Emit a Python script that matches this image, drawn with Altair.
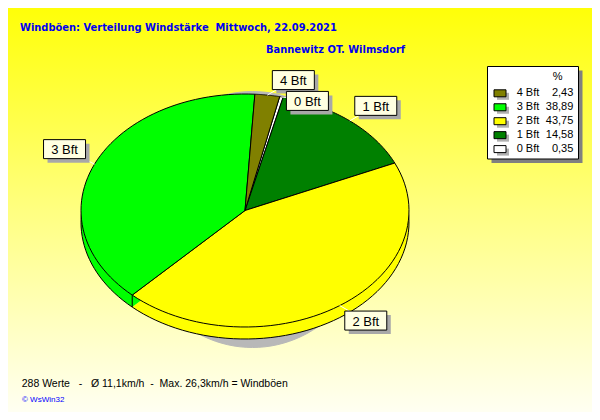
import math
import altair as alt
import pandas as pd

# ---------------- data ----------------
labels = ["0 Bft", "1 Bft", "2 Bft", "3 Bft", "4 Bft"]
values = [0.35, 14.58, 43.75, 38.89, 2.43]
value_texts = ["0,35", "14,58", "43,75", "38,89", "2,43"]
colors = ["#FFFFFF", "#008000", "#FFFF00", "#00FF00", "#808000"]

title1 = "Windböen: Verteilung Windstärke  Mittwoch, 22.09.2021"
title2 = "Bannewitz OT. Wilmsdorf"
footer = "288 Werte   -   Ø 11,1km/h  -  Max. 26,3km/h = Windböen"
credit = "© WsWin32"
legend_head = "%"

# ---------------- layout / style constants ----------------
W, H = 584, 404
CX, CY = 237, 202.5          # centre of the pie top face
RA, RB = 164, 116.5          # ellipse radii of the pie
DEPTH = 12                   # 3-D thickness
START = math.radians(12.2)   # start angle of first slice (clockwise from top)
N = 60                       # arc resolution per slice
SCX, SCY, SRA, SRB = 244.5, 211.5, 120, 128  # shadow ellipse

TITLE_FONT = "DejaVu Sans Condensed, DejaVu Sans, sans-serif"
FONT = "Liberation Sans, Arial, sans-serif"

df = pd.DataFrame({"label": labels, "value": values, "vtext": value_texts,
                   "idx": list(range(len(labels)))})

xs = alt.Scale(domain=[0, W], nice=False, zero=False)
ys = alt.Scale(domain=[0, H], nice=False, zero=False, reverse=True)
fill_scale = alt.Scale(domain=labels, range=colors)


def X(f):
    return alt.X(f"{f}:Q", scale=xs, axis=None)


def Y(f):
    return alt.Y(f"{f}:Q", scale=ys, axis=None)


# ---------------- background ----------------
bg = alt.Chart(pd.DataFrame({"a": [0]})).mark_rect(
    fill=alt.Gradient(gradient="linear", x1=0, y1=0, x2=0, y2=1,
                      stops=[alt.GradientStop(color="#FFFF08", offset=0),
                             alt.GradientStop(color="#FFFF80", offset=0.5),
                             alt.GradientStop(color="#FFFFF2", offset=1)])
).encode(x=alt.value(0), x2=alt.value(W), y=alt.value(0), y2=alt.value(H))

# ---------------- shadow ellipse ----------------
shadow = alt.Chart(alt.sequence(0, 121, as_="k")).transform_calculate(
    ang="2*PI*datum.k/120",
    px=f"{SCX} + {SRA}*sin(datum.ang)",
    py=f"{SCY} - {SRB}*cos(datum.ang)",
).mark_line(fill="#B8B8B8", stroke="#B8B8B8", strokeWidth=1).encode(
    x=X("px"), y=Y("py"), order="k:Q")

# ---------------- slice geometry ----------------
slices = alt.Chart(df).transform_joinaggregate(
    total="sum(value)"
).transform_window(
    cum="sum(value)", sort=[alt.SortField("idx")], frame=[None, 0]
).transform_calculate(
    a0=f"{START} + 2*PI*(datum.cum - datum.value)/datum.total",
    a1=f"{START} + 2*PI*datum.cum/datum.total",
    mid="(datum.a0 + datum.a1)/2",
)

poly = slices.transform_calculate(
    step=f"sequence(-1, {N + 2})"
).transform_flatten(["step"]).transform_calculate(
    edge=f"datum.step >= 0 && datum.step <= {N}",
    ang=f"datum.a0 + (datum.a1 - datum.a0) * clamp(datum.step, 0, {N}) / {N}",
    px=f"datum.edge ? {CX} + {RA}*sin(datum.ang) : {CX}",
    py=f"datum.edge ? {CY} - {RB}*cos(datum.ang) : {CY}",
    pys=f"datum.py + {DEPTH}",
)

fill_enc = alt.Fill("label:N", scale=fill_scale, legend=None)

side_fill = poly.mark_line(strokeOpacity=0).encode(
    x=X("px"), y=Y("pys"), detail="label:N", order="step:Q", fill=fill_enc)

side_edge = poly.transform_filter("datum.edge").mark_line(
    color="black", strokeWidth=1).encode(
    x=X("px"), y=Y("pys"), detail="label:N", order="step:Q")

side_rules = slices.transform_calculate(
    bx=f"{CX} + {RA}*sin(datum.a0)",
    by=f"{CY} - {RB}*cos(datum.a0)",
    by2=f"datum.by + {DEPTH}",
    front="cos(datum.a0) < 0",
).transform_filter("datum.front").mark_rule(color="black", strokeWidth=1).encode(
    x=X("bx"), y=Y("by"), y2="by2:Q")

top = poly.mark_line(stroke="black", strokeWidth=1, strokeJoin="round").encode(
    x=X("px"), y=Y("py"), detail="label:N", order="step:Q", fill=fill_enc)

# ---------------- slice labels ----------------
lab = slices.transform_calculate(
    ex=f"{CX} + {RA}*sin(datum.mid)",
    ey=f"{CY} - {RB}*cos(datum.mid)",
    bx="datum.ex + (sin(datum.mid) >= 0 ? 26 : -30)",
    by="datum.ey + (datum.value < 1 ? 4 : (cos(datum.mid) >= 0 ? -15 : 15))",
    l0="datum.bx - 21", l1="datum.bx + 21",
    t0="datum.by - 9.5", t1="datum.by + 9.5",
    s0="datum.bx - 17", s1="datum.bx + 25",
    u0="datum.by - 5.5", u1="datum.by + 13.5",
)

leader = lab.mark_rule(color="white", strokeWidth=1).encode(
    x=X("ex"), y=Y("ey"), x2="bx:Q", y2="by:Q")
box_shadow = lab.mark_rect(fill="#A8A8A8").encode(
    x=X("s0"), x2="s1:Q", y=Y("u0"), y2="u1:Q")
box = lab.mark_rect(fill="#FFFFE1", stroke="black", strokeWidth=1).encode(
    x=X("l0"), x2="l1:Q", y=Y("t0"), y2="t1:Q")
box_text = lab.mark_text(font=FONT, fontSize=13, color="black", align="center",
                         baseline="middle", dy=1).encode(
    x=X("bx"), y=Y("by"), text="label:N")

# ---------------- legend ----------------
LX0, LX1, LY0, LY1 = 479.5, 570.5, 58.5, 151
leg_frame_df = pd.DataFrame({"a": [0]})
leg_shadow = alt.Chart(leg_frame_df).mark_rect(fill="#808080").encode(
    x=alt.value(LX0 + 4), x2=alt.value(LX1 + 4), y=alt.value(LY0 + 4), y2=alt.value(LY1 + 4))
leg_box = alt.Chart(leg_frame_df).mark_rect(fill="white", stroke="black", strokeWidth=1).encode(
    x=alt.value(LX0), x2=alt.value(LX1), y=alt.value(LY0), y2=alt.value(LY1))
leg_head = alt.Chart(leg_frame_df).mark_text(
    font=FONT, fontSize=11, color="black", align="center", baseline="middle"
).encode(x=alt.value(549.7), y=alt.value(68.5), text=alt.value(legend_head))

leg = alt.Chart(df).transform_calculate(
    row=f"{len(labels) - 1} - datum.idx",
    ly="85.3 + 13.95*datum.row",
    sy0="datum.ly - 3.5", sy1="datum.ly + 3.5",
    hy0="datum.ly - 0.5", hy1="datum.ly + 6.5",
    sx0="486", sx1="498", hx0="489", hx1="501",
    tx="508.7", vx="565.3",
)
leg_sw_shadow = leg.mark_rect(fill="#B0B0B0").encode(
    x=X("hx0"), x2="hx1:Q", y=Y("hy0"), y2="hy1:Q")
leg_sw = leg.mark_rect(stroke="black", strokeWidth=1).encode(
    x=X("sx0"), x2="sx1:Q", y=Y("sy0"), y2="sy1:Q", fill=fill_enc)
leg_lab = leg.mark_text(font=FONT, fontSize=11, color="black", align="left",
                        baseline="middle").encode(x=X("tx"), y=Y("ly"), text="label:N")
leg_val = leg.mark_text(font=FONT, fontSize=11, color="black", align="right",
                        baseline="middle").encode(x=X("vx"), y=Y("ly"), text="vtext:N")


# ---------------- titles / footer ----------------
def txt(s, x, y, size, color, weight="normal", font=FONT):
    return alt.Chart(leg_frame_df).mark_text(
        font=font, fontSize=size, fontWeight=weight, color=color,
        align="left", baseline="alphabetic"
    ).encode(x=alt.value(x), y=alt.value(y), text=alt.value(s.replace(" ", "\u00a0")))


t1 = txt(title1, 12, 22.5, 11, "#0000F0", "bold", TITLE_FONT)
t2 = txt(title2, 258, 45, 11, "#0000F0", "bold", TITLE_FONT)
t3 = txt(footer, 13.7, 379, 10.5, "black")
t4 = txt(credit, 14, 394, 8, "#0000FF")

chart = alt.layer(
    bg, shadow, side_fill, side_edge, side_rules, top,
    leader, box_shadow, box, box_text,
    leg_shadow, leg_box, leg_head, leg_sw_shadow, leg_sw, leg_lab, leg_val,
    t1, t2, t3, t4,
).properties(
    width=W, height=H, padding=0, autosize="none", background="#FFFFF4"
).configure_view(stroke=None)

chart.save("out.html", embed_options={"renderer": "svg", "actions": False})
